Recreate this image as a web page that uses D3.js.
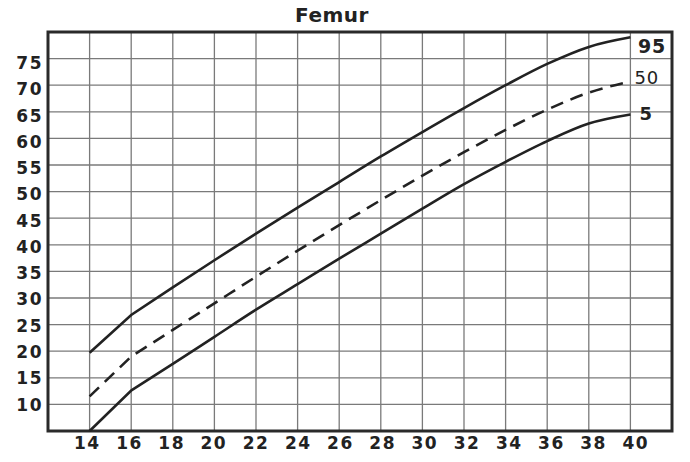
<!DOCTYPE html>
<html>
<head>
<meta charset="utf-8">
<script src="https://cdn.jsdelivr.net/npm/d3@7/dist/d3.min.js"></script>
<style>
  html, body { margin: 0; padding: 0; background: #fff; }
  svg { display: block; }
  text { font-family: "DejaVu Sans", Verdana, sans-serif; fill: #222; }
</style>
</head>
<body>
<svg id="chart" width="690" height="462"></svg>
<script>
// ---- data ----
const weeks = [14, 16, 18, 20, 22, 24, 26, 28, 30, 32, 34, 36, 38, 40];
const p95 = [19.7, 26.8, 32.0, 37.1, 42.1, 47.0, 51.8, 56.6, 61.2, 65.7, 70.0, 74.0, 77.2, 79.0];
const p50 = [11.5, 19.0, 24.0, 29.0, 34.0, 38.9, 43.7, 48.4, 53.0, 57.4, 61.6, 65.4, 68.6, 70.7];
const p5  = [5.0, 12.6, 17.6, 22.7, 27.8, 32.6, 37.4, 42.1, 46.8, 51.4, 55.6, 59.5, 62.8, 64.5];
const xTicks = [14, 16, 18, 20, 22, 24, 26, 28, 30, 32, 34, 36, 38, 40];
const yTicks = [10, 15, 20, 25, 30, 35, 40, 45, 50, 55, 60, 65, 70, 75];
const seriesNames = ["95", "50", "5"];
const title = "Femur";

// ---- layout ----
const svg = d3.select("#chart");
const L = 48, R = 672, T = 32, B = 431;
const x = d3.scaleLinear().domain([12, 42]).range([L, R]);
const y = d3.scaleLinear().domain([5, 80]).range([B, T]);
// tick label placement (slightly spread, as in the printed original)
const xLab = d3.scaleLinear().domain([14, 40]).range([86.5, 635]);
const yLab = d3.scaleLinear().domain([10, 75]).range([404.5, 63]);

// grid
const g = svg.append("g");
g.selectAll("line.v").data(xTicks).join("line")
  .attr("x1", d => x(d)).attr("x2", d => x(d))
  .attr("y1", T).attr("y2", B)
  .attr("stroke", "#7a7a7a").attr("stroke-width", 1.3);
g.selectAll("line.h").data(yTicks).join("line")
  .attr("x1", L).attr("x2", R)
  .attr("y1", d => y(d)).attr("y2", d => y(d))
  .attr("stroke", "#7a7a7a").attr("stroke-width", 1.3);

// frame
svg.append("rect").attr("x", L).attr("y", T).attr("width", R - L).attr("height", B - T)
  .attr("fill", "none").attr("stroke", "#2a2a2a").attr("stroke-width", 3);

// axis labels
svg.append("g").selectAll("text").data(yTicks).join("text")
  .attr("x", 43).attr("y", d => yLab(d))
  .attr("text-anchor", "end").attr("dominant-baseline", "central")
  .attr("font-size", 17).attr("font-weight", "bold").attr("letter-spacing", 1.5)
  .text(d => d);
svg.append("g").selectAll("text").data(xTicks).join("text")
  .attr("x", d => xLab(d) + 0.8).attr("y", 443)
  .attr("text-anchor", "middle").attr("dominant-baseline", "central")
  .attr("font-size", 17).attr("font-weight", "bold").attr("letter-spacing", 1.5)
  .text(d => d);

// title
svg.append("text").attr("x", 332).attr("y", 15)
  .attr("text-anchor", "middle").attr("dominant-baseline", "central")
  .attr("font-size", 20).attr("font-weight", "bold").attr("letter-spacing", 0.5)
  .text(title);

// curves: sharp bend at 16 weeks, smooth afterwards
const lineLin = d3.line().x(d => x(d[0])).y(d => y(d[1])).curve(d3.curveLinear);
const lineSm = d3.line().x(d => x(d[0])).y(d => y(d[1])).curve(d3.curveMonotoneX);
const all = [p95, p50, p5];
all.forEach((vals, i) => {
  const pts = weeks.map((w, k) => [w, vals[k]]);
  const dashed = i === 1;
  const path = lineLin(pts.slice(0, 2)) + lineSm(pts.slice(1)).replace(/^M/, "L");
  svg.append("path").attr("d", path)
    .attr("fill", "none").attr("stroke", "#222").attr("stroke-width", 2.6)
    .attr("stroke-dasharray", dashed ? "13,8" : null)
    .attr("stroke-linecap", "butt");
});

// end labels
const endLab = [
  {name: seriesNames[0], v: p95[p95.length - 1], dx: 7.5, dy: 8.5, size: 19, weight: "bold"},
  {name: seriesNames[1], v: p50[p50.length - 1], dx: 4, dy: -3.5, size: 18, weight: "normal"},
  {name: seriesNames[2], v: p5[p5.length - 1], dx: 9, dy: -1, size: 18, weight: "bold"}
];
svg.append("g").selectAll("text").data(endLab).join("text")
  .attr("x", d => x(40) + d.dx).attr("y", d => y(d.v) + d.dy)
  .attr("dominant-baseline", "central")
  .attr("font-size", d => d.size).attr("font-weight", d => d.weight)
  .attr("letter-spacing", 1)
  .text(d => d.name);
</script>
</body>
</html>
